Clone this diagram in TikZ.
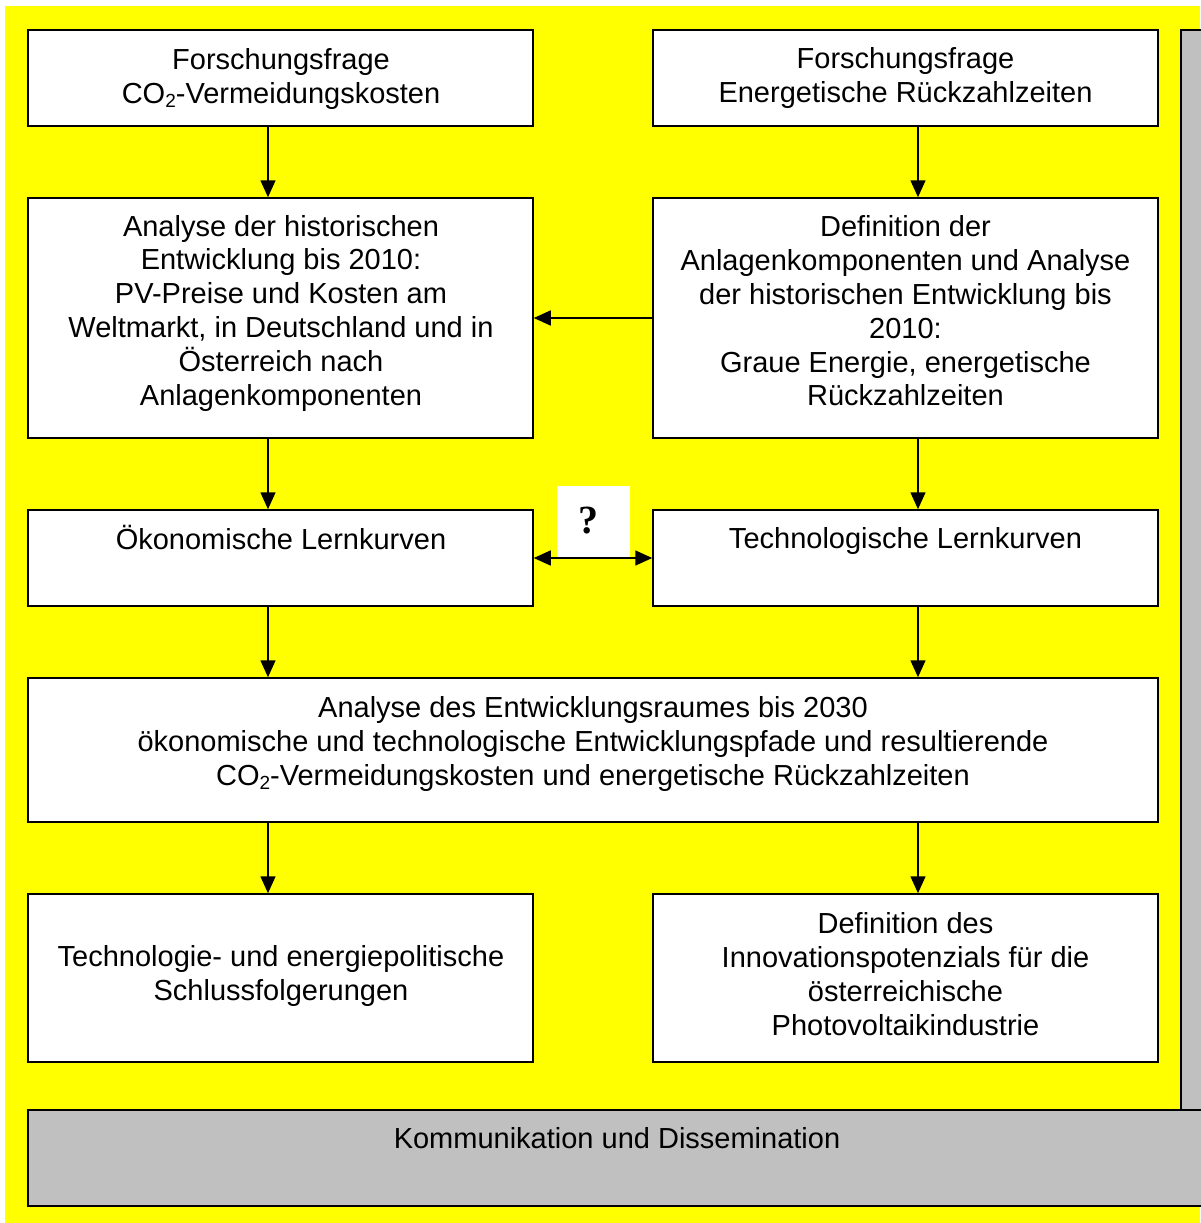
\documentclass[tikz,border=0pt]{standalone}
\usepackage{fontspec}
\setmainfont{Liberation Sans}
\newfontfamily\qfont{Liberation Serif}
\usetikzlibrary{arrows.meta}
\definecolor{bgyellow}{RGB}{255,255,0}
\definecolor{panelgray}{RGB}{192,192,192}
\newcommand{\cotwo}{CO\raisebox{-0.25ex}{\fontsize{19}{19}\selectfont 2}}
\begin{document}
\begin{tikzpicture}[x=1pt,y=-1pt,
  box/.style={draw=black, line width=1.5pt, fill=white, inner sep=0pt},
  txt/.style={align=center, inner sep=0pt, font=\fontsize{29}{33.8}\selectfont},
  arr/.style={line width=1.5pt, -{Triangle[length=17pt,width=15pt]}},
  darr/.style={line width=1.5pt, {Triangle[length=17pt,width=15pt]}-{Triangle[length=17pt,width=15pt]}}]
\useasboundingbox (0,0) rectangle (1200,1223);
\fill[white] (0,0) rectangle (1200,1223);
\fill[bgyellow] (5,6) rectangle (1200,1223);
% right panel
\fill[panelgray] (1181,30) rectangle (1215,1110);
\draw[line width=1.5pt] (1181,1110) -- (1181,30) -- (1215,30);
% bottom bar
\filldraw[fill=panelgray, line width=1.5pt] (28,1110) rectangle (1215,1206);
\node[txt] (tk) at (617,1138) {Kommunikation und Dissemination};
% coordinates for arrow columns
\coordinate (xl) at (268,0);
\coordinate (xr) at (918,0);
% row 1
\node[box, minimum width=505, minimum height=96] (l1) at (280.5,78) {};
\node[box, minimum width=505, minimum height=96] (r1) at (905.5,78) {};
\node[txt] (tl1) at (281,79) {Forschungsfrage\\\cotwo-Vermeidungskosten};
\node[txt] (tr1) at (905.5,78) {Forschungsfrage\\Energetische Rückzahlzeiten};
% row 2
\node[box, minimum width=505, minimum height=240] (l2) at (280.5,318) {};
\node[box, minimum width=505, minimum height=240] (r2) at (905.5,318) {};
\node[txt] (tl2) at (281,313) {Analyse der historischen\\Entwicklung bis 2010:\\PV-Preise und Kosten am\\Weltmarkt, in Deutschland und in\\Österreich nach\\Anlagenkomponenten};
\node[txt] (tr2) at (905.5,311) {Definition der\\Anlagenkomponenten und Analyse\\der historischen Entwicklung bis\\2010:\\Graue Energie, energetische\\Rückzahlzeiten};
% row 3
\node[box, minimum width=505, minimum height=96] (l3) at (280.5,558) {};
\node[box, minimum width=505, minimum height=96] (r3) at (905.5,558) {};
\node[txt] (tl3) at (281,537) {Ökonomische Lernkurven};
\node[txt] (tr3) at (905.5,541) {Technologische Lernkurven};
% question box
\node[fill=white, inner sep=0pt, minimum width=73, minimum height=72] (qb) at (593.5,522) {};
\node[inner sep=0pt, font=\qfont\bfseries\fontsize{40}{40}\selectfont] (q) at (588,521) {?};
% row 4
\node[box, minimum width=1130, minimum height=144] (w4) at (593,750) {};
\node[txt] (tw4) at (593,744) {Analyse des Entwicklungsraumes bis 2030\\ökonomische und technologische Entwicklungspfade und resultierende\\\cotwo-Vermeidungskosten und energetische Rückzahlzeiten};
% row 5
\node[box, minimum width=505, minimum height=168] (l5) at (280.5,978) {};
\node[box, minimum width=505, minimum height=168] (r5) at (905.5,978) {};
\node[txt] (tl5) at (281,976) {Technologie- und energiepolitische\\Schlussfolgerungen};
\node[txt] (tr5) at (905.5,974) {Definition des\\Innovationspotenzials für die\\österreichische\\Photovoltaikindustrie};
% arrows
\draw[arr] (l1.south -| xl) -- (l2.north -| xl);
\draw[arr] (r1.south -| xr) -- (r2.north -| xr);
\draw[arr] (r2.west) -- (l2.east);
\draw[arr] (l2.south -| xl) -- (l3.north -| xl);
\draw[arr] (r2.south -| xr) -- (r3.north -| xr);
\draw[darr] (l3.east) -- (r3.west);
\draw[arr] (l3.south -| xl) -- (w4.north -| xl);
\draw[arr] (r3.south -| xr) -- (w4.north -| xr);
\draw[arr] (w4.south -| xl) -- (l5.north -| xl);
\draw[arr] (w4.south -| xr) -- (r5.north -| xr);
\end{tikzpicture}
\end{document}
